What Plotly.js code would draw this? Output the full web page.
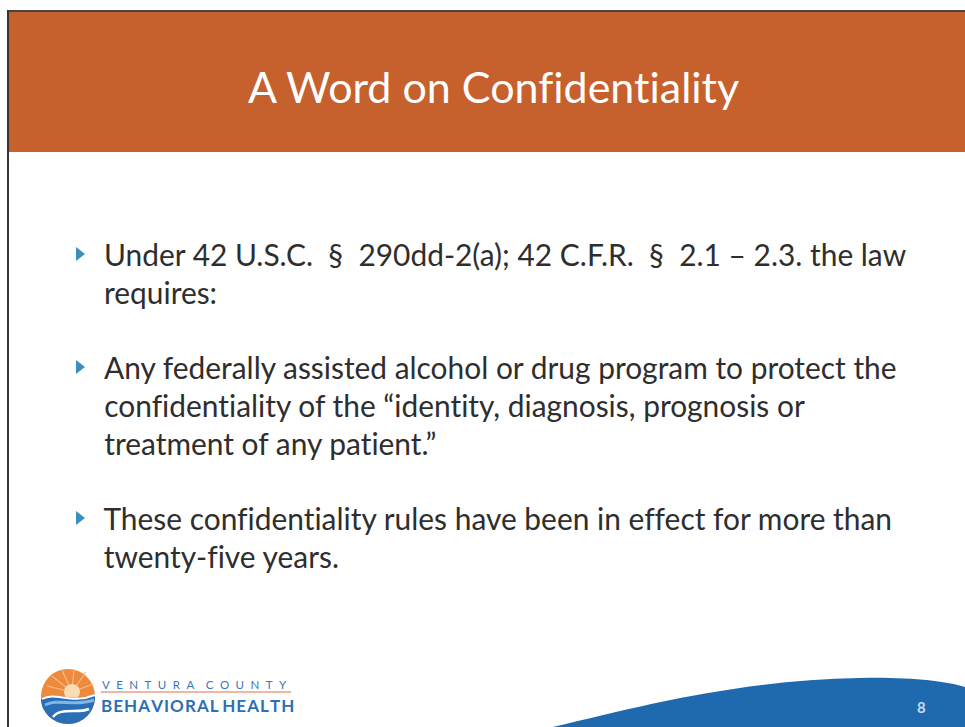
<!DOCTYPE html>
<html>
<head>
<meta charset="utf-8">
<script src="https://cdn.plot.ly/plotly-3.0.1.min.js"></script>
<style>
html,body{margin:0;padding:0;background:#fff;}
#chart{width:965px;height:727px;}
#chart text{font-variant-ligatures:none;font-feature-settings:"liga" 0,"dlig" 0,"clig" 0;}
</style>
</head>
<body>
<div id="chart"></div>
<script>
// ---- content ----
var slideTitle = "A Word on Confidentiality";
var bulletLines = [
  ["Under 42 U.S.C.\u00A0 §\u00A0 290dd-2(a); 42 C.F.R.\u00A0 §\u00A0 2.1 – 2.3. the law", "requires:"],
  ["Any federally assisted alcohol or drug program to protect the", "confidentiality of the “identity, diagnosis, prognosis or", "treatment of any patient.”"],
  ["These confidentiality rules have been in effect for more than", "twenty-five years."]
];
var logoTopWords = ["VENTURA", "COUNTY"];
var logoBottomWords = ["BEHAVIORAL", "HEALTH"];
var pageNumber = "8";

// ---- layout constants ----
var W = 965, H = 727;
var firstLineY = 254, lineH = 38, paraGap = 37;
var textX = 102, bulletX = 79;
var bodyFont = "Lato, 'Open Sans', sans-serif";

function spaced(words, sep, wordSep){
  return words.map(function(w){ return w.split('').join(sep); }).join(wordSep);
}

var annotations = [];
var shapes = [];
var bulletYs = [];
var y = firstLineY;
bulletLines.forEach(function(lines){
  bulletYs.push(y);
  lines.forEach(function(t){
    annotations.push({x: textX, y: y, xref:'x', yref:'y', text: t, showarrow:false,
      xanchor:'left', yanchor:'middle', font:{family: bodyFont, size: 29.9, color:'#2e2e2e'}});
    y += lineH;
  });
  y += paraGap;
});

// slide frame and header
shapes.push({type:'rect', xref:'x', yref:'y', x0:9, x1:W, y0:11, y1:152, fillcolor:'#c6612e', line:{width:0}, layer:'below'});
shapes.push({type:'line', xref:'x', yref:'y', x0:8, x1:W, y0:11, y1:11, line:{color:'#4a4440', width:2}});
shapes.push({type:'line', xref:'x', yref:'y', x0:8, x1:8, y0:10, y1:H, line:{color:'#333333', width:2}});

annotations.push({x: 493, y: 86, xref:'x', yref:'y', text: slideTitle, showarrow:false,
  xanchor:'center', yanchor:'middle', font:{family: bodyFont, size: 43, color:'#ffffff'}});

// bottom wave
shapes.push({type:'path', xref:'x', yref:'y',
  path:'M 553 727 C 640 706, 740 680, 860 678 C 910 677, 945 681, 965 687 L 965 727 Z',
  fillcolor:'#1f69ae', line:{width:0}});
annotations.push({x: 921, y: 707, xref:'x', yref:'y', text: pageNumber, showarrow:false,
  xanchor:'center', yanchor:'middle', font:{family: bodyFont, size: 15, color:'#c4dbf0', weight:'bold'}});

// logo mark
shapes.push({type:'circle', xref:'x', yref:'y', x0:41, x1:95, y0:669, y1:724, fillcolor:'#ee8a3c', line:{width:0}});
shapes.push({type:'path', xref:'x', yref:'y', path:'M 72 692 L 52 676 M 72 692 L 62 670 M 72 692 L 74 669 M 72 692 L 86 672 M 72 692 L 93 684 M 72 692 L 47 686', line:{color:'#f6b98a', width:1.2}});
shapes.push({type:'circle', xref:'x', yref:'y', x0:64, x1:80, y0:684, y1:700, fillcolor:'#fbdcb4', line:{width:0}});
shapes.push({type:'path', xref:'x', yref:'y',
  path:'M 41 699 C 55 690, 70 704, 95 694 L 95 697 C 95 712, 83 724, 68 724 C 53 724, 41 712, 41 699 Z',
  fillcolor:'#2a6fb5', line:{width:0}});
shapes.push({type:'path', xref:'x', yref:'y', path:'M 42 699 C 56 691, 70 705, 95 695', line:{color:'#ffffff', width:2}});
shapes.push({type:'path', xref:'x', yref:'y', path:'M 45 705 C 58 698, 74 707, 94 700', line:{color:'#7fb8e4', width:3}});
shapes.push({type:'path', xref:'x', yref:'y', path:'M 53 717 C 60 707, 78 714, 89 709', line:{color:'#ffffff', width:2.5}});
shapes.push({type:'line', xref:'x', yref:'y', x0:101, x1:291, y0:692, y1:692, line:{color:'#e0704a', width:1.2}});
annotations.push({x: 100, y: 684, xref:'x', yref:'y', text: spaced(logoTopWords, '\u2002\u200A', '\u2002\u2002'), showarrow:false,
  xanchor:'left', yanchor:'middle', font:{family: bodyFont, size: 11.5, color:'#3a74b6'}});
annotations.push({x: 99, y: 705, xref:'x', yref:'y', text: spaced(logoBottomWords, '\u200A', ' '), showarrow:false,
  xanchor:'left', yanchor:'middle', font:{family: "Lato, sans-serif", size: 17, color:'#2c6fb4', weight:'bold'}});

var data = [{
  type:'scatter', mode:'markers', x: bulletYs.map(function(){return bulletX;}), y: bulletYs,
  marker:{symbol:'triangle-right', size:12, color:'#3b8fbd'}, hoverinfo:'skip', showlegend:false
}];

var layout = {
  width: W, height: H, margin:{l:0,r:0,t:0,b:0},
  paper_bgcolor:'#ffffff', plot_bgcolor:'#ffffff',
  xaxis:{range:[0,W], visible:false, fixedrange:true},
  yaxis:{range:[H,0], visible:false, fixedrange:true},
  shapes: shapes, annotations: annotations, showlegend:false
};
Plotly.newPlot('chart', data, layout, {displayModeBar:false, staticPlot:true});
</script>
</body>
</html>
